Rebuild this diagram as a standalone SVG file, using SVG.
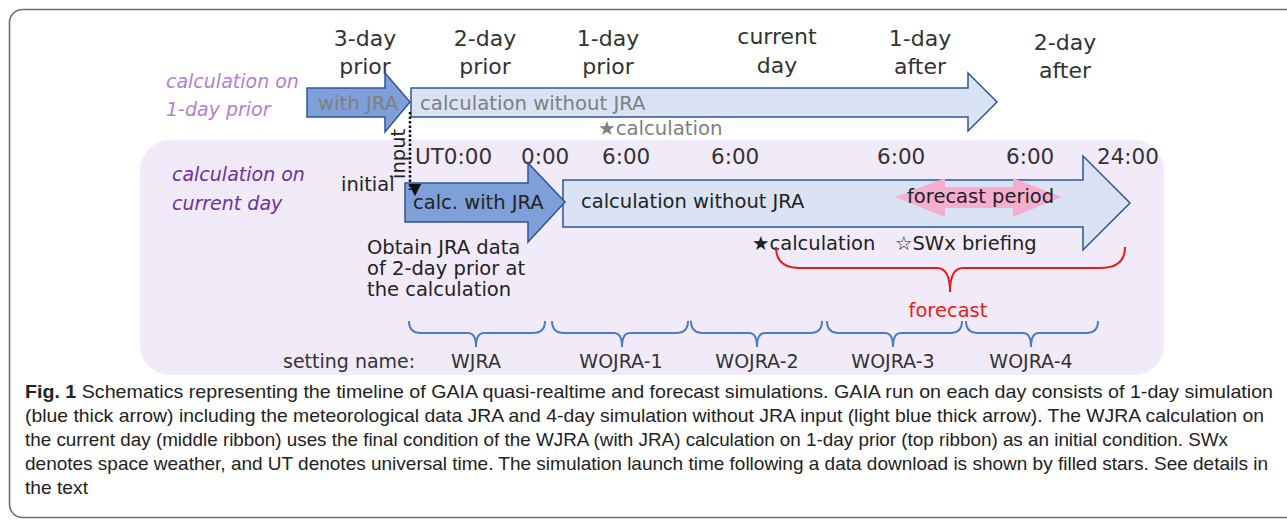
<svg xmlns="http://www.w3.org/2000/svg" width="1287" height="520" viewBox="0 0 1287 520">
  <style>
    .hd { font-family: "DejaVu Sans", sans-serif; font-size: 22px; fill: #333; text-anchor: middle; }
    .lbl { font-family: "DejaVu Sans", sans-serif; font-size: 19.5px; fill: #222; }
    .gry { font-family: "DejaVu Sans", sans-serif; font-size: 19.7px; fill: #7f7f7f; }
    .time { font-family: "DejaVu Sans", sans-serif; font-size: 21.5px; fill: #333; }
    .side1 { font-family: "DejaVu Sans", sans-serif; font-size: 19px; font-style: italic; fill: #b27fd6; }
    .side2 { font-family: "DejaVu Sans", sans-serif; font-size: 19px; font-style: italic; fill: #7030a0; }
    .set { font-family: "DejaVu Sans", sans-serif; font-size: 19px; fill: #333; }
    .cap { font-family: "Liberation Sans", Arial, sans-serif; font-size: 18.5px; fill: #222; }
    .dark { fill: #7f9fd8; stroke: #2f5597; stroke-width: 1.5; }
    .light { fill: #dae3f3; stroke: #2f5597; stroke-width: 1.5; }
    .brace-b { fill: none; stroke: #4a7cc9; stroke-width: 2; }
    .brace-r { fill: none; stroke: #f01818; stroke-width: 2; }
  </style>
  <defs>
    <marker id="arrowDown" viewBox="0 0 10 10" refX="5" refY="9" markerWidth="5" markerHeight="5" orient="auto" markerUnits="strokeWidth">
      <path d="M0,0 L10,5 L0,10 Z" fill="#111"/>
    </marker>
  </defs>

  <!-- figure frame -->
  <rect x="9.5" y="9.5" width="1330" height="508" rx="13" fill="#fff" stroke="#6e6e6e" stroke-width="1.6"/>

  <!-- lavender ribbon for the current-day run -->
  <rect x="140" y="140" width="1024" height="235" rx="30" fill="#f1eaf8"/>

  <!-- day headings -->
  <g id="headings">
    <text class="hd" x="365" y="46">3-day</text>
    <text class="hd" x="365" y="74">prior</text>
    <text class="hd" x="485" y="46">2-day</text>
    <text class="hd" x="485" y="74">prior</text>
    <text class="hd" x="608" y="46">1-day</text>
    <text class="hd" x="608" y="74">prior</text>
    <text class="hd" x="777" y="44">current</text>
    <text class="hd" x="777" y="73">day</text>
    <text class="hd" x="920" y="46">1-day</text>
    <text class="hd" x="920" y="74">after</text>
    <text class="hd" x="1065" y="50">2-day</text>
    <text class="hd" x="1065" y="78">after</text>
  </g>

  <!-- top ribbon: calculation on 1-day prior -->
  <g id="prior-label">
    <text class="side1" x="166" y="88">calculation on</text>
    <text class="side1" x="166" y="116">1-day prior</text>
  </g>
  <g id="prior-wojra">
    <path class="light" d="M411,88 L968,88 L968,73 L997,102 L968,131 L968,117 L411,117 Z"/>
    <text class="gry" x="420" y="110">calculation without JRA</text>
  </g>
  <g id="prior-wjra">
    <path class="dark" d="M307,88 L385,88 L385,73 L410,102 L385,132 L385,117 L307,117 Z"/>
    <text class="gry" x="318" y="110" font-size="19.4">with JRA</text>
  </g>
  <g id="prior-star">
    <text class="gry" x="598" y="135">★calculation</text>
  </g>

  <!-- current day ribbon -->
  <g id="current-label">
    <text class="side2" x="172" y="181">calculation on</text>
    <text class="side2" x="172" y="210">current day</text>
  </g>
  <g id="times">
    <text class="time" x="415" y="164">UT0:00</text>
    <text class="time" x="521" y="164">0:00</text>
    <text class="time" x="602" y="164">6:00</text>
    <text class="time" x="711" y="164">6:00</text>
    <text class="time" x="877" y="164">6:00</text>
    <text class="time" x="1006" y="164">6:00</text>
    <text class="time" x="1097" y="164">24:00</text>
  </g>
  <g id="current-wojra">
    <path class="light" d="M563,180 L1083,180 L1083,156 L1130,203 L1083,250 L1083,227 L563,227 Z"/>
  </g>
  <g id="forecast-period">
    <path d="M895,197 L945,178 L945,187 L1013,187 L1013,178 L1062,197 L1013,217 L1013,208 L945,208 L945,217 Z" fill="#f6aed0"/>
    <text class="lbl" x="907" y="203">forecast period</text>
  </g>
  <g id="current-wojra-text">
    <text class="lbl" x="581" y="208">calculation without JRA</text>
  </g>
  <g id="current-wjra">
    <path class="dark" d="M405,183 L528,183 L528,163 L565,202 L528,242 L528,222 L405,222 Z"/>
    <text class="lbl" x="413" y="209">calc. with JRA</text>
  </g>
  <g id="initial">
    <text class="lbl" x="341" y="191">initial</text>
  </g>
  <g id="obtain-note">
    <text class="lbl" font-size="17"><tspan x="367" y="254">Obtain JRA data</tspan><tspan x="367" y="275">of 2-day prior at</tspan><tspan x="367" y="296">the calculation</tspan></text>
  </g>
  <g id="current-stars">
    <text class="lbl" x="752" y="250">★calculation</text>
    <text class="lbl" x="895" y="250" font-size="18.8">☆SWx briefing</text>
  </g>

  <!-- connectors: input handover and braces -->
  <g id="connectors">
    <line x1="410" y1="112" x2="410" y2="190" stroke="#111" stroke-width="2.5" stroke-dasharray="2.5 2" marker-end="url(#arrowDown)"/>
    <text class="lbl" font-size="14" transform="translate(405,179) rotate(-90)" x="0" y="0">input</text>
    <path class="brace-r" d="M776,247 Q776,268 800,268 L937,268 Q950,268 950,292 Q950,268 963,268 L1100,268 Q1125,268 1125,247"/>
    <path class="brace-b" d="M409,321 Q409,333 421,333 L468,333 Q476,333 476,347 Q476,333 484,333 L533,333 Q545,333 545,321"/>
    <path class="brace-b" d="M552,321 Q552,333 564,333 L614,333 Q622,333 622,347 Q622,333 630,333 L676,333 Q688,333 688,321"/>
    <path class="brace-b" d="M691,321 Q691,333 703,333 L749,333 Q757,333 757,347 Q757,333 765,333 L810,333 Q822,333 822,321"/>
    <path class="brace-b" d="M827,321 Q827,333 839,333 L885,333 Q893,333 893,347 Q893,333 901,333 L950,333 Q962,333 962,321"/>
    <path class="brace-b" d="M966,321 Q966,333 978,333 L1023,333 Q1031,333 1031,347 Q1031,333 1039,333 L1086,333 Q1098,333 1098,321"/>
  </g>
  <g id="forecast-label">
    <text x="948" y="317" text-anchor="middle" font-family="'DejaVu Sans', sans-serif" font-size="19.5" fill="#f01818">forecast</text>
  </g>

  <!-- setting names -->
  <g id="settings">
    <text class="set" x="283" y="368">setting name:</text>
    <text class="set" x="476" y="368" text-anchor="middle" font-size="18">WJRA</text>
    <text class="set" x="621" y="368" text-anchor="middle" font-size="18">WOJRA-1</text>
    <text class="set" x="757" y="368" text-anchor="middle" font-size="18">WOJRA-2</text>
    <text class="set" x="893" y="368" text-anchor="middle" font-size="18">WOJRA-3</text>
    <text class="set" x="1031" y="368" text-anchor="middle" font-size="18">WOJRA-4</text>
  </g>

  <!-- caption -->
  <g id="caption">
    <text class="cap" x="25" y="398" textLength="1248" lengthAdjust="spacingAndGlyphs"><tspan font-weight="bold">Fig. 1</tspan>  Schematics representing the timeline of GAIA quasi-realtime and forecast simulations. GAIA run on each day consists of 1-day simulation</text>
    <text class="cap" x="25" y="422" textLength="1239" lengthAdjust="spacingAndGlyphs">(blue thick arrow) including the meteorological data JRA and 4-day simulation without JRA input (light blue thick arrow). The WJRA calculation on</text>
    <text class="cap" x="25" y="446" textLength="1203" lengthAdjust="spacingAndGlyphs">the current day (middle ribbon) uses the final condition of the WJRA (with JRA) calculation on 1-day prior (top ribbon) as an initial condition. SWx</text>
    <text class="cap" x="25" y="470" textLength="1243" lengthAdjust="spacingAndGlyphs">denotes space weather, and UT denotes universal time. The simulation launch time following a data download is shown by filled stars. See details in</text>
    <text class="cap" x="25" y="494" textLength="63" lengthAdjust="spacingAndGlyphs">the text</text>
  </g>
</svg>
